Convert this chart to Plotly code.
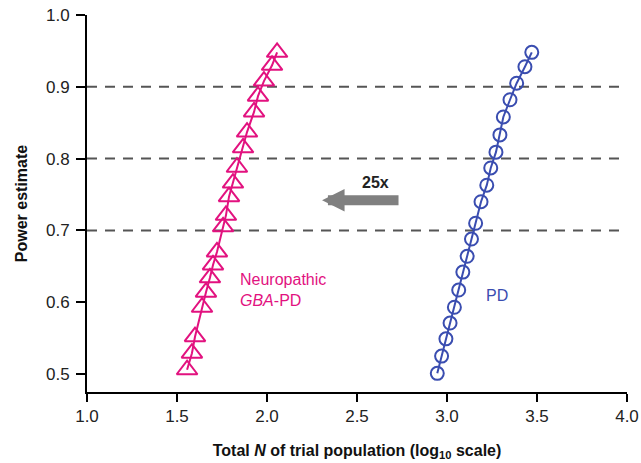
import plotly.graph_objects as go

# Neuropathic GBA-PD (log10 N, power)
gba_logn = [1.556, 1.583, 1.600, 1.639, 1.661, 1.683, 1.700, 1.722, 1.756, 1.772,
            1.789, 1.811, 1.833, 1.867, 1.889, 1.928, 1.950, 1.983, 2.028, 2.056]
gba_power = [0.506, 0.529, 0.552, 0.593, 0.614, 0.634, 0.652, 0.670, 0.705, 0.721,
             0.747, 0.766, 0.788, 0.815, 0.837, 0.865, 0.887, 0.908, 0.930, 0.948]

# PD (log10 N, power)
pd_logn = [2.946, 2.970, 2.994, 3.017, 3.041, 3.065, 3.088, 3.112, 3.136, 3.159,
           3.189, 3.221, 3.243, 3.272, 3.294, 3.313, 3.350, 3.387, 3.433, 3.471]
pd_power = [0.501, 0.525, 0.549, 0.571, 0.593, 0.617, 0.642, 0.664, 0.688, 0.710,
            0.740, 0.763, 0.787, 0.809, 0.833, 0.858, 0.882, 0.905, 0.928, 0.948]

ref_lines = [0.7, 0.8, 0.9]
x_ticks = [1.0, 1.5, 2.0, 2.5, 3.0, 3.5, 4.0]
y_ticks = [0.5, 0.6, 0.7, 0.8, 0.9, 1.0]

PINK = "#e2127f"
BLUE = "#3a4db0"
FONT = "Liberation Sans, Arial, sans-serif"

fig = go.Figure()

for yv in ref_lines:
    fig.add_shape(type="line", xref="x", yref="y", x0=1.0, x1=4.0, y0=yv, y1=yv,
                  line=dict(color="#555555", width=2, dash="10px,8px"), layer="below")

fig.add_trace(go.Scatter(
    x=gba_logn, y=gba_power, mode="lines+markers",
    line=dict(color=PINK, width=2),
    marker=dict(symbol="triangle-up-open", size=18, color=PINK, line=dict(width=2, color=PINK)),
    showlegend=False))

fig.add_trace(go.Scatter(
    x=pd_logn, y=pd_power, mode="lines+markers",
    line=dict(color=BLUE, width=2),
    marker=dict(symbol="circle-open", size=13, color=BLUE, line=dict(width=2, color=BLUE)),
    showlegend=False))

# arrow
fig.add_annotation(x=2.306, y=0.742, ax=2.739, ay=0.742, xref="x", yref="y",
                   axref="x", ayref="y", showarrow=True, arrowhead=2,
                   arrowwidth=10, arrowsize=0.45, arrowcolor="#808080", text="")
fig.add_annotation(x=2.6, y=0.767, xref="x", yref="y", showarrow=False,
                   text="<b>25x</b>", font=dict(family=FONT, size=16, color="#222222"))

fig.add_annotation(x=1.839, y=0.632, xref="x", yref="y", showarrow=False, xanchor="left",
                   text="Neuropathic", font=dict(family=FONT, size=16, color=PINK))
fig.add_annotation(x=1.839, y=0.603, xref="x", yref="y", showarrow=False, xanchor="left",
                   text="<i>GBA</i>-PD", font=dict(family=FONT, size=16, color=PINK))
fig.add_annotation(x=3.278, y=0.609, xref="x", yref="y", showarrow=False,
                   text="PD", font=dict(family=FONT, size=16, color=BLUE))

fig.update_layout(
    width=641, height=463,
    margin=dict(l=87, r=14, t=15, b=71),
    paper_bgcolor="white", plot_bgcolor="white",
    font=dict(family=FONT, color="#222222"),
    xaxis=dict(range=[1.0, 4.0], tickvals=x_ticks, tickformat=".1f", automargin=False,
               ticklabeloverflow="allow",
               showgrid=False, zeroline=False, showline=True, linecolor="black", linewidth=2,
               ticks="outside", ticklen=8, tickwidth=2, tickcolor="black",
               tickfont=dict(size=17, color="#222222"),
               title=dict(text="<b>Total <i>N</i> of trial population (log<sub>10</sub> scale)</b>",
                          font=dict(size=16, color="#111111"), standoff=19)),
    yaxis=dict(range=[0.475, 1.0], tickvals=y_ticks, tickformat=".1f", automargin=False,
               ticklabeloverflow="allow",
               showgrid=False, zeroline=False, showline=True, linecolor="black", linewidth=2,
               ticks="outside", ticklen=9, tickwidth=2, tickcolor="black",
               ticklabelstandoff=3,
               tickfont=dict(size=17, color="#222222"),
               title=dict(text="<b>Power estimate</b>", font=dict(size=16, color="#111111"),
                          standoff=14)),
)

# remove the default page margin so the 641x463 figure fills the window exactly
fig.write_html("out.html",
               config={"displayModeBar": False},
               post_script="document.body.style.margin='0';document.body.style.overflow='hidden';")
